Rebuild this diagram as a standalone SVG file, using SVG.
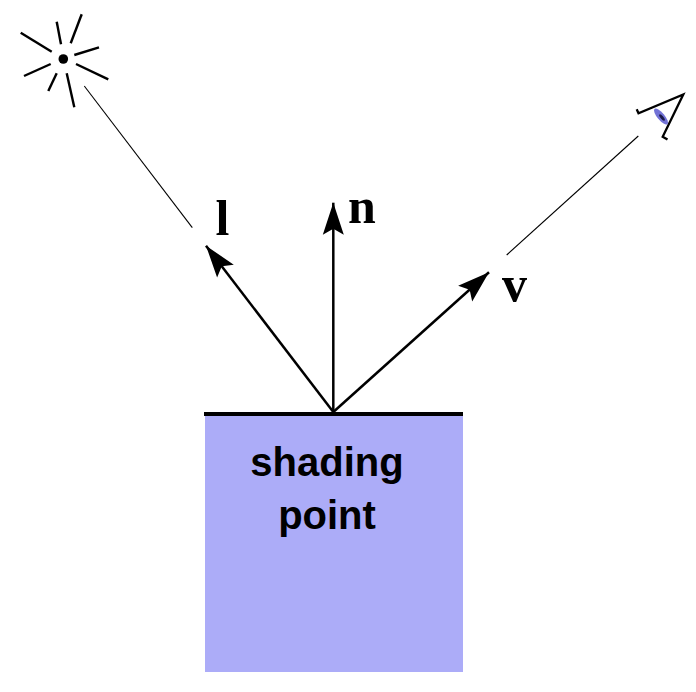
<svg xmlns="http://www.w3.org/2000/svg" width="696" height="692" viewBox="0 0 696 692">
  <style>
    .vec { stroke: #000; stroke-width: 2.5; fill: none; }
    .thin { stroke: #000; stroke-width: 1.1; fill: none; }
    .ray { stroke: #000; stroke-width: 2.4; stroke-linecap: butt; }
    .lbl { font-family: "Liberation Serif", "Times New Roman", serif; font-weight: bold; font-size: 50px; fill: #000; }
    .box { font-family: "Liberation Sans", Arial, sans-serif; font-weight: bold; font-size: 40px; fill: #000; text-anchor: middle; }
  </style>
  <defs>
    <marker id="arrow" markerUnits="userSpaceOnUse" markerWidth="40" markerHeight="30" refX="0" refY="0" orient="auto" overflow="visible">
      <path d="M0,0 L-32,-10.5 L-26,0 L-32,10.5 Z" fill="#000"/>
    </marker>
  </defs>
  <rect width="696" height="692" fill="#fff"/>

  <g id="shading-point">
    <rect x="205" y="414" width="258" height="258" fill="#ACACF8"/>
    <line x1="204" y1="414" x2="463" y2="414" stroke="#000" stroke-width="3.8"/>
    <text class="box" x="327" y="476">shading</text>
    <text class="box" x="327" y="529">point</text>
  </g>

  <g id="light">
    <line class="ray" x1="20.7" y1="32.7" x2="51.7" y2="51.7"/>
    <line class="ray" x1="56.7" y1="21.7" x2="61" y2="44.3"/>
    <line class="ray" x1="81.7" y1="14.3" x2="70.7" y2="43.3"/>
    <line class="ray" x1="74.3" y1="55" x2="99" y2="47.3"/>
    <line class="ray" x1="76" y1="64" x2="108.3" y2="79.3"/>
    <line class="ray" x1="66.7" y1="73.3" x2="74.3" y2="107.3"/>
    <line class="ray" x1="56.7" y1="73.3" x2="48.3" y2="91"/>
    <line class="ray" x1="24" y1="76" x2="50.7" y2="64"/>
    <circle cx="63.3" cy="59" r="4.8" fill="#000"/>
  </g>

  <g id="eye">
    <polyline points="636.7,109.3 638.5,113.3 683.3,94.5 662.7,136.7 667.5,139.5" fill="none" stroke="#000" stroke-width="2.3" stroke-linejoin="miter"/>
    <ellipse cx="661" cy="116.5" rx="10" ry="3.6" transform="rotate(50 661 116.5)" fill="#7272D6"/>
    <ellipse cx="662" cy="117.5" rx="4" ry="1.4" transform="rotate(50 662 117.5)" fill="#1a1a4a"/>
  </g>

  <g id="labels">
    <text class="lbl" x="215.5" y="235">l</text>
    <text class="lbl" x="348" y="223">n</text>
    <text class="lbl" x="502" y="300.5">v</text>
  </g>

  <g id="connectors">
    <line class="thin" x1="84.3" y1="86" x2="192.3" y2="227.7"/>
    <line class="thin" x1="638.3" y1="136" x2="506.7" y2="255"/>
    <line class="vec" x1="333.3" y1="412" x2="206" y2="245.7" marker-end="url(#arrow)"/>
    <line class="vec" x1="333.3" y1="412" x2="333.3" y2="202.7" marker-end="url(#arrow)"/>
    <line class="vec" x1="333.3" y1="412" x2="489" y2="272.3" marker-end="url(#arrow)"/>
  </g>
</svg>
